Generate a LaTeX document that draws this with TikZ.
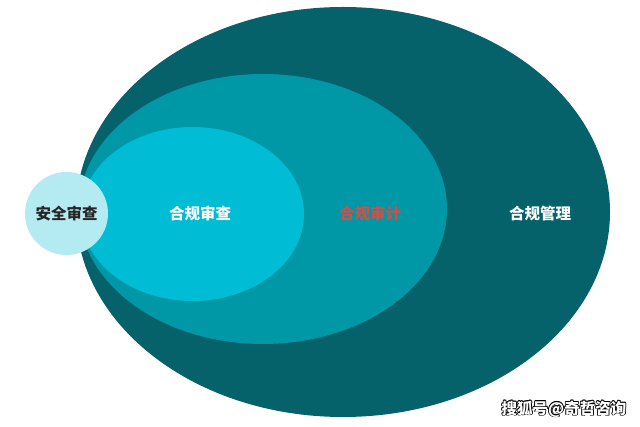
\documentclass[tikz,border=0pt]{standalone}
\usepackage{fontspec}
\newfontfamily\cjk{Noto Sans CJK SC}
\definecolor{outerc}{HTML}{05616A}
\definecolor{midc}{HTML}{0097A7}
\definecolor{innerc}{HTML}{00BCD4}
\definecolor{circc}{HTML}{B4EAF2}
\definecolor{redtxt}{HTML}{C9534A}
\newcommand\wmout[1]{\leavevmode
  \rlap{\kern-0.7pt\color{black}#1}\rlap{\kern0.7pt\color{black}#1}%
  \rlap{\raisebox{0.7pt}{\color{black}#1}}\rlap{\raisebox{-0.7pt}{\color{black}#1}}%
  \rlap{\kern0.5pt\raisebox{0.5pt}{\color{black}#1}}\rlap{\kern-0.5pt\raisebox{-0.5pt}{\color{black}#1}}%
  \rlap{\kern0.5pt\raisebox{-0.5pt}{\color{black}#1}}\rlap{\kern-0.5pt\raisebox{0.5pt}{\color{black}#1}}%
  {\color{white}#1}}
\tikzset{
  lbl/.style={font=\cjk\bfseries\fontsize{15.5}{18}\selectfont, inner sep=0pt},
}
\begin{document}
\begin{tikzpicture}[x=1pt,y=-1pt]
\useasboundingbox (0,0) rectangle (640,427);
\fill[white] (0,0) rectangle (640,427);
\fill[outerc] (343,212) ellipse [x radius=267, y radius=205];
\fill[midc] (263,209) ellipse [x radius=184, y radius=135];
\fill[innerc] (192.5,214) ellipse [x radius=111.5, y radius=87];
\fill[circc] (66.5,213.5) circle [radius=41.5];
\node[lbl, text=black!85] (safe) at (66.5,213.5) {安全审查};
\node[lbl, text=white] (review) at (200,213.5) {合规审查};
\node[lbl, text=redtxt] (audit) at (370,214) {合规审计};
\node[lbl, text=white] (manage) at (540,214) {合规管理};
\node[font=\cjk\bfseries\fontsize{15.5}{17}\selectfont, inner sep=0pt] (wm) at (564,409) {\wmout{搜狐号@奇哲咨询}};
\end{tikzpicture}
\end{document}
